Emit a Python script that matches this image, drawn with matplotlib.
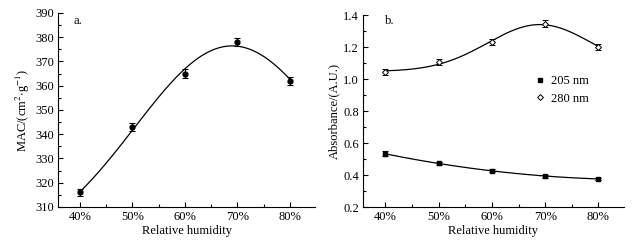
import numpy as np
import matplotlib
matplotlib.use("Agg")
import matplotlib.pyplot as plt
from matplotlib.ticker import MultipleLocator, FormatStrFormatter

plt.rcParams['font.family'] = ['Liberation Serif', 'DejaVu Serif']
plt.rcParams['mathtext.fontset'] = 'stix'

humidity = ["40%", "50%", "60%", "70%", "80%"]
mac = [316, 343, 365, 378, 362]
mac_err = [1.5, 1.8, 1.8, 1.8, 1.8]
abs_205 = [0.532, 0.472, 0.427, 0.392, 0.376]
abs_205_err = [0.015, 0.012, 0.010, 0.010, 0.008]
abs_280 = [1.045, 1.105, 1.230, 1.345, 1.200]
abs_280_err = [0.018, 0.018, 0.020, 0.022, 0.018]

x = np.arange(len(humidity))
xs = np.linspace(0, 4, 300)


def gauss_fit(xv, yv):
    # y = a + b*exp(-(x-c)^2/(2 s^2)); grid search over c, s, linear lsq for a, b
    yv = np.asarray(yv, float)
    best = None
    for c in np.linspace(2.0, 4.0, 201):
        for s in np.linspace(0.3, 4.0, 186):
            g = np.exp(-(xv - c) ** 2 / (2 * s * s))
            A = np.column_stack([np.ones_like(g), g])
            coef, *_ = np.linalg.lstsq(A, yv, rcond=None)
            r = np.sum((A @ coef - yv) ** 2)
            if best is None or r < best[0]:
                best = (r, c, s, coef)
    _, c, s, coef = best
    return lambda t: coef[0] + coef[1] * np.exp(-(t - c) ** 2 / (2 * s * s))


FS = 9
fig = plt.figure(figsize=(6.37, 2.45), dpi=100)
axa = fig.add_axes([58/637, 1-207/245, (315-58)/637, (207-13)/245])
axb = fig.add_axes([363/637, 1-207/245, (624-363)/637, (207-15)/245])


def style(ax):
    for s in ['top', 'right']:
        ax.spines[s].set_visible(False)
    ax.tick_params(direction='in', labelsize=FS, length=3.5, width=0.8, pad=3)
    ax.tick_params(which='minor', direction='in', length=2, width=0.8)
    ax.set_xticks(x)
    ax.set_xticklabels(humidity)
    ax.xaxis.set_minor_locator(MultipleLocator(0.5))
    ax.set_xlim(-0.42, 4.48)
    ax.set_xlabel('Relative humidity', fontsize=FS, labelpad=1)


# panel a
fa = gauss_fit(x, mac)
axa.plot(xs, fa(xs), color='black', lw=0.9)
axa.errorbar(x, mac, yerr=mac_err, fmt='o', color='black', ms=3.5,
             capsize=2, elinewidth=0.8, capthick=0.8)
style(axa)
axa.set_ylim(310, 390)
axa.yaxis.set_major_locator(MultipleLocator(10))
axa.yaxis.set_minor_locator(MultipleLocator(5))
axa.set_ylabel(r'MAC/(cm$^{2}$$\cdot$g$^{-1}$)', fontsize=FS, labelpad=2)
axa.text(0.06, 0.99, 'a.', transform=axa.transAxes, fontsize=FS, va='top')

# panel b
p205 = np.polyfit(x, abs_205, 2)
f280 = gauss_fit(x, abs_280)
axb.plot(xs, np.polyval(p205, xs), color='black', lw=0.9)
axb.plot(xs, f280(xs), color='black', lw=0.9)
axb.errorbar(x, abs_205, yerr=abs_205_err, fmt='s', color='black', ms=3,
             capsize=2, elinewidth=0.8, capthick=0.8, label='205 nm')
axb.errorbar(x, abs_280, yerr=abs_280_err, fmt='D', color='black', mfc='white',
             ms=3, mew=0.7, capsize=2, elinewidth=0.8, capthick=0.8, label='280 nm')
style(axb)
axb.set_ylim(0.2, 1.4)
axb.yaxis.set_major_locator(MultipleLocator(0.2))
axb.yaxis.set_minor_locator(MultipleLocator(0.1))
axb.yaxis.set_major_formatter(FormatStrFormatter('%.1f'))
axb.set_ylabel('Absorbance/(A.U.)', fontsize=FS, labelpad=2)
axb.text(0.085, 1.0, 'b.', transform=axb.transAxes, fontsize=FS, va='top')
handles, labels = axb.get_legend_handles_labels()
handles = [h[0] for h in handles]
axb.legend(handles, labels, loc='upper left', bbox_to_anchor=(0.64, 0.72),
           frameon=False, fontsize=FS, handlelength=0.6, handletextpad=0.6,
           borderpad=0, labelspacing=0.45)

fig.savefig('out.png', dpi=100)
